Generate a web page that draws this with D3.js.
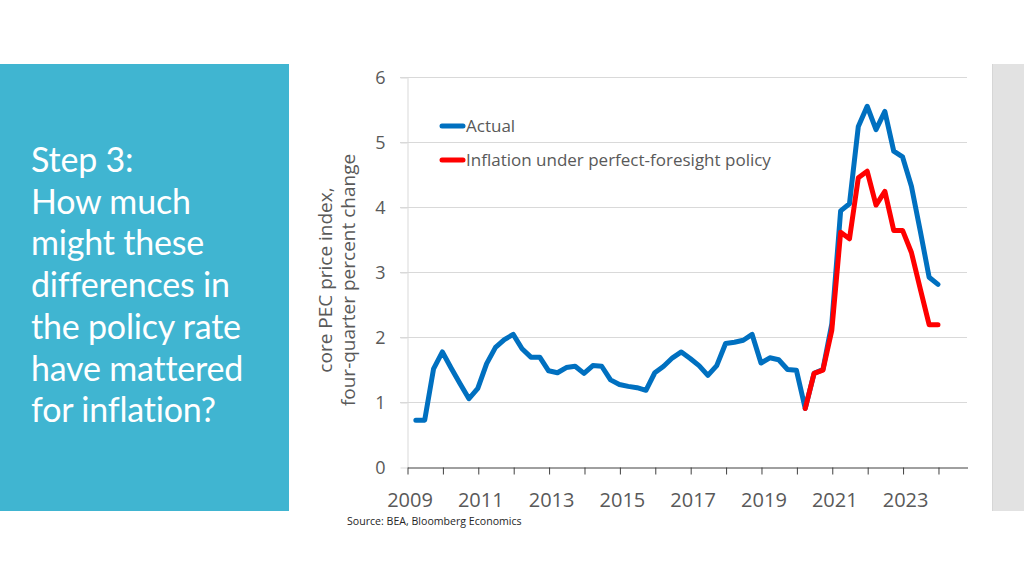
<!DOCTYPE html>
<html><head><meta charset="utf-8">
<script src="https://cdn.jsdelivr.net/npm/d3@7"></script>
<style>body{margin:0;background:#fff;} svg{display:block}</style>
</head><body>
<svg id="c" width="1024" height="576"></svg>
<script>
// ---------- data ----------
const quarters = [
 "2009Q1","2009Q2","2009Q3","2009Q4","2010Q1","2010Q2","2010Q3","2010Q4",
 "2011Q1","2011Q2","2011Q3","2011Q4","2012Q1","2012Q2","2012Q3","2012Q4",
 "2013Q1","2013Q2","2013Q3","2013Q4","2014Q1","2014Q2","2014Q3","2014Q4",
 "2015Q1","2015Q2","2015Q3","2015Q4","2016Q1","2016Q2","2016Q3","2016Q4",
 "2017Q1","2017Q2","2017Q3","2017Q4","2018Q1","2018Q2","2018Q3","2018Q4",
 "2019Q1","2019Q2","2019Q3","2019Q4","2020Q1","2020Q2","2020Q3","2020Q4",
 "2021Q1","2021Q2","2021Q3","2021Q4","2022Q1","2022Q2","2022Q3","2022Q4",
 "2023Q1","2023Q2","2023Q3","2023Q4"];
const actual = [
 0.72,0.72,1.51,1.77,1.52,1.28,1.05,1.21,
 1.59,1.84,1.96,2.04,1.82,1.69,1.69,1.48,
 1.45,1.53,1.55,1.44,1.56,1.55,1.34,1.27,
 1.24,1.22,1.18,1.45,1.55,1.68,1.77,1.67,
 1.56,1.41,1.56,1.90,1.92,1.95,2.04,1.60,
 1.68,1.65,1.50,1.49,0.90,1.44,1.50,2.20,
 3.94,4.05,5.24,5.55,5.19,5.47,4.86,4.77,
 4.32,3.63,2.92,2.81];
const foresight = [
 null,null,null,null,null,null,null,null,
 null,null,null,null,null,null,null,null,
 null,null,null,null,null,null,null,null,
 null,null,null,null,null,null,null,null,
 null,null,null,null,null,null,null,null,
 null,null,null,null,0.90,1.44,1.49,2.10,
 3.61,3.51,4.45,4.55,4.03,4.24,3.64,3.64,
 3.30,2.74,2.19,2.19];
const yTicks = [0,1,2,3,4,5,6];
const xTickYears = [2009,2010,2011,2012,2013,2014,2015,2016,2017,2018,2019,2020,2021,2022,2023,2024];
const xLabelYears = [2009,2011,2013,2015,2017,2019,2021,2023];
const seriesNames = ["Actual","Inflation under perfect-foresight policy"];
const seriesColors = ["#0070C0","#FF0000"];
const yTitle = ["core PEC price index,","four-quarter percent change"];
const sideText = ["Step 3:","How much","might these","differences in","the policy rate","have mattered","for inflation?"];
const sourceText = "Source: BEA, Bloomberg Economics";

// ---------- layout ----------
const svg = d3.select("#c");
const qTime = q => +q.slice(0,4) + (+q.slice(5)) * 0.25; // end of quarter
const x = d3.scaleLinear().domain([2009, 2024.82]).range([407, 967]);
const y = d3.scaleLinear().domain([0, 6]).range([467, 77]);
const txt = "#595959";

// side panels
svg.append("rect").attr("x",0).attr("y",64).attr("width",289).attr("height",447).attr("fill","#40B5D1");
svg.append("rect").attr("x",992).attr("y",64).attr("width",32).attr("height",447).attr("fill","#E2E2E2");
svg.append("line").attr("x1",992.5).attr("x2",992.5).attr("y1",64).attr("y2",511).attr("stroke","#D6D6D6");

const side = svg.append("text").attr("font-family","Lato, 'Open Sans', sans-serif")
  .attr("font-size",34).attr("fill","#fff").attr("letter-spacing",-0.2);
sideText.forEach((t,i)=>{
  side.append("tspan").attr("x",31).attr("y",172 + i*41.7).text(t);
});

// gridlines
svg.append("g").selectAll("line").data(yTicks.filter(d=>d>0)).join("line")
  .attr("x1",400).attr("x2",967).attr("y1",d=>y(d)+0.5).attr("y2",d=>y(d)+0.5)
  .attr("stroke","#D9D9D9").attr("stroke-width",1);

// y axis
const gy = svg.append("g").attr("transform","translate(407.5,0.5)")
  .call(d3.axisLeft(y).tickValues(yTicks).tickSize(7).tickSizeOuter(0).tickPadding(15)
    .tickFormat(d3.format("d")));
gy.select(".domain").attr("stroke","#D9D9D9");
gy.selectAll(".tick line").attr("stroke","#D9D9D9");
gy.selectAll(".tick text").attr("font-family","'Open Sans', sans-serif").attr("font-size",18).attr("fill",txt);

// x axis
const gx = svg.append("g").attr("transform","translate(0.5,467.5)")
  .call(d3.axisBottom(x).tickValues(xTickYears).tickSize(7).tickSizeOuter(0).tickPadding(18)
    .tickFormat(d => xLabelYears.includes(d) ? String(d) : ""));
gx.select(".domain").attr("stroke","#404040");
gx.selectAll(".tick line").attr("stroke","#404040");
gx.selectAll(".tick text").attr("font-family","'Open Sans', sans-serif").attr("font-size",20)
  .attr("fill",txt).attr("dx",2);

// y title
yTitle.forEach((t,i)=>{
  svg.append("text").attr("transform",`translate(${332 + i*23},280) rotate(-90)`)
    .attr("text-anchor","middle").attr("font-family","'Open Sans', sans-serif")
    .attr("font-size",19).attr("fill",txt).text(t);
});

// lines
const line = d3.line().defined(d=>d.v!=null).x(d=>x(qTime(d.q))).y(d=>y(d.v));
[actual, foresight].forEach((arr,k)=>{
  svg.append("path").datum(quarters.map((q,i)=>({q, v:arr[i]})))
    .attr("d",line).attr("fill","none").attr("stroke",seriesColors[k])
    .attr("stroke-width",5).attr("stroke-linejoin","round").attr("stroke-linecap","round");
});

// legend
seriesNames.forEach((n,k)=>{
  const ly = 126 + k*34;
  svg.append("line").attr("x1",442).attr("x2",463).attr("y1",ly).attr("y2",ly)
    .attr("stroke",seriesColors[k]).attr("stroke-width",5).attr("stroke-linecap","round");
  svg.append("text").attr("x",466).attr("y",ly+6).attr("font-family","'Open Sans', sans-serif")
    .attr("font-size",17).attr("fill",txt).text(n);
});

// source
svg.append("text").attr("x",347).attr("y",525).attr("font-family","'Open Sans', sans-serif")
  .attr("font-size",10.6).attr("fill","#262626").text(sourceText);
</script>
</body></html>
